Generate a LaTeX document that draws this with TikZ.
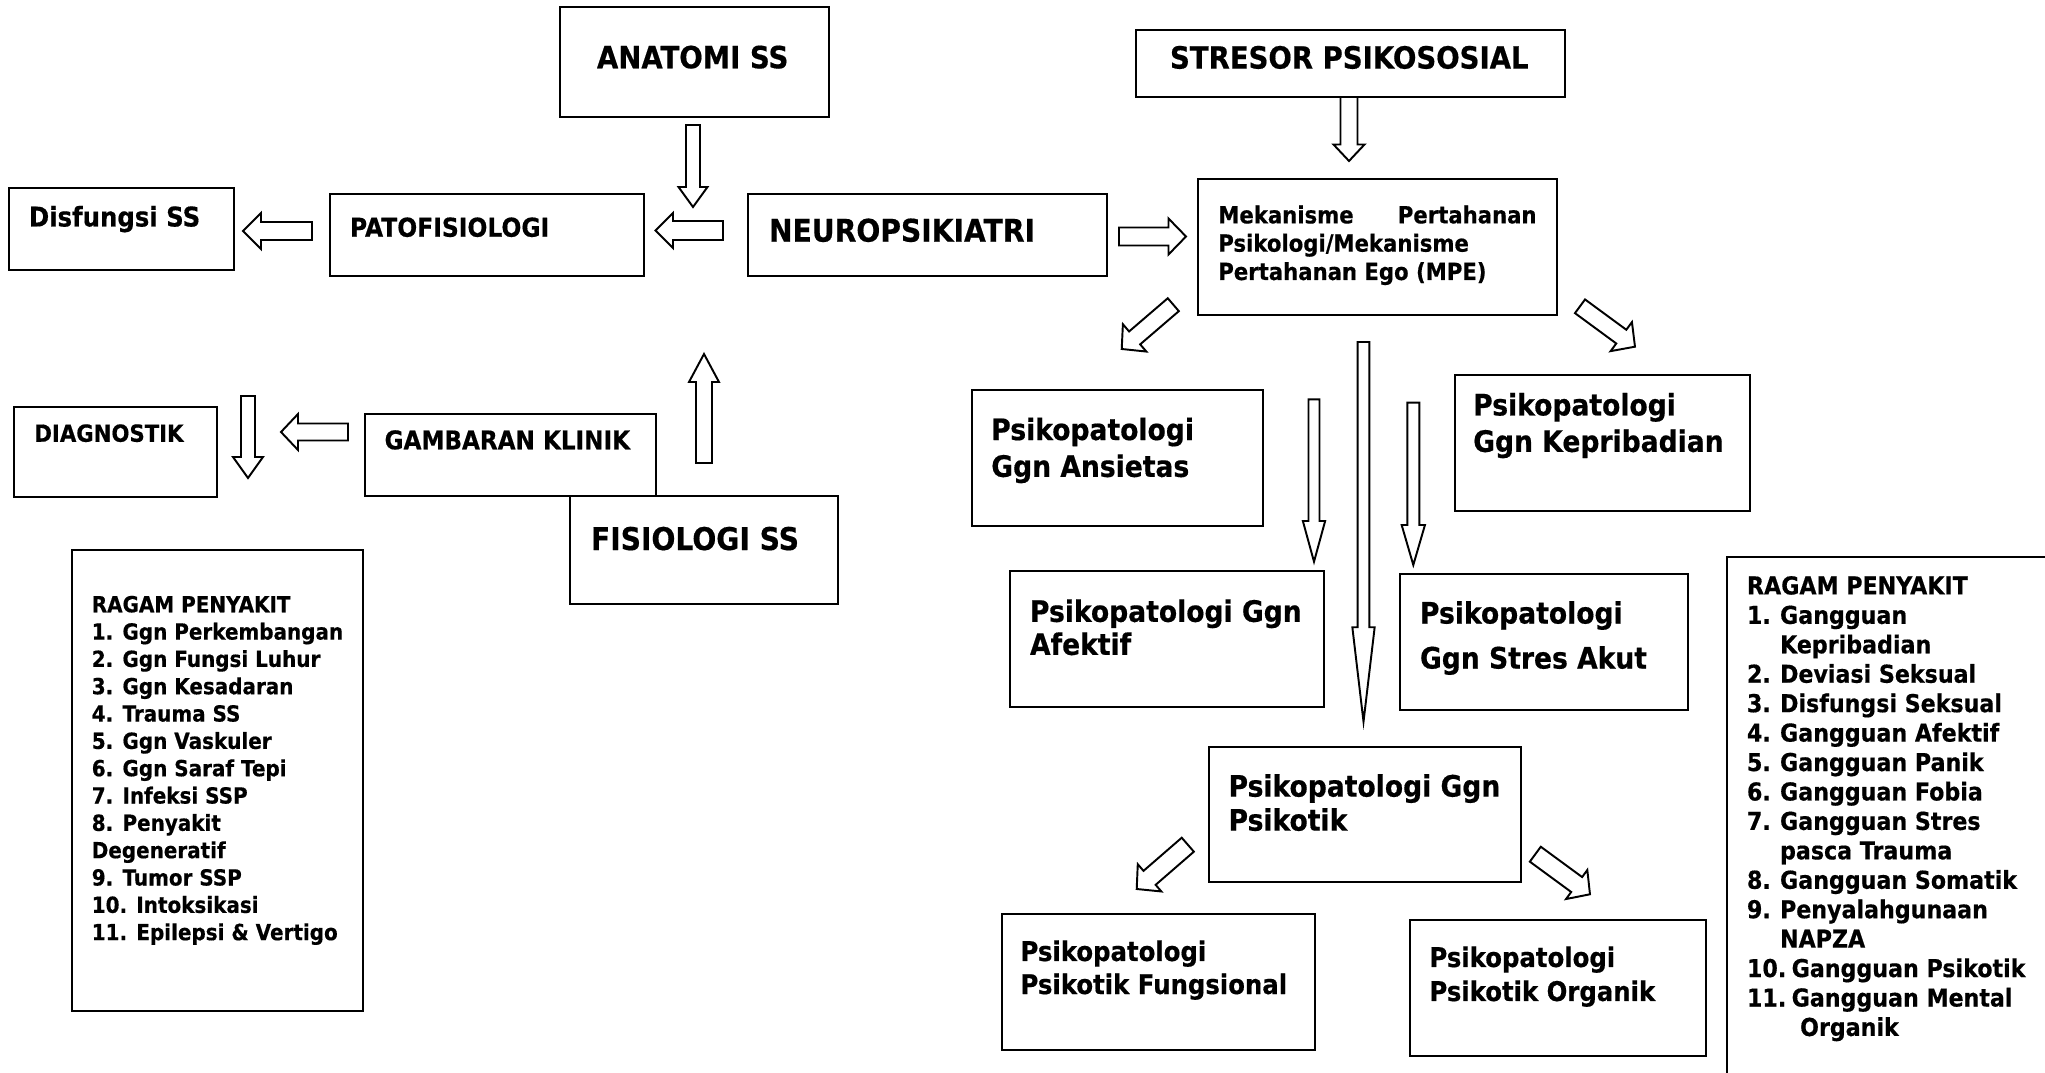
\documentclass[tikz,border=0pt]{standalone}
\usepackage{fontspec}
\setmainfont{DejaVu Sans}[FakeStretch=0.9, FakeBold=0.5]
\usetikzlibrary{fit,calc}
\tikzset{
  box/.style={draw=black, line width=0.6pt, inner sep=0pt, outer sep=0pt, fill=white},
  txt/.style={inner sep=0pt, outer sep=0pt, anchor=north west, align=left},
  barrowline/.style={draw=black, fill=white, line width=0.55pt, line join=miter},
}
\newcommand\mkfont[2]{\fontsize{#1}{#2}\selectfont\bfseries}
\newcommand\ptext[5]{\node[txt, font={\mkfont{#3}{#4}}] (#1) at (#2) {\rule{0pt}{#3}#5};}
\newcommand\nb[1]{\makebox[9.4pt][l]{#1}}
\newcommand\nbb[1]{\makebox[12.7pt][l]{#1}}
% block arrow: tail coordinate, tip coordinate, shaft width, head width, head length (px)
\newcommand\blockarrow[5]{%
  \path let \p3=($(#2)-(#1)$) in \pgfextra{%
    \pgfmathsetmacro\baang{atan2(\y3,\x3)}%
    \pgfmathsetmacro\balen{veclen(\x3,\y3)}%
    \xdef\BAang{\baang}\xdef\BAlen{\balen}};
  \pgfmathsetmacro\BAs{#3*0.142265}%
  \pgfmathsetmacro\BAh{#4*0.142265}%
  \pgfmathsetmacro\BAb{\BAlen-#5*0.28453}%
  \draw[barrowline, shift={(#1)}, rotate=\BAang] (0pt,-\BAs pt) -- (\BAb pt,-\BAs pt) -- (\BAb pt,-\BAh pt) -- (\BAlen pt,0pt) -- (\BAb pt,\BAh pt) -- (\BAb pt,\BAs pt) -- (0pt,\BAs pt) -- cycle;
}
\begin{document}
\begin{tikzpicture}[x=0.01cm, y=-0.01cm]
\useasboundingbox (0,0) rectangle (2045,1073);
\fill[white] (0,0) rectangle (2045,1073);
\clip (0,0) rectangle (2045,1073);

% ---------- boxes ----------
\node[box, fit={(560,7) (829,117)}] (ana) {};
\node[box, fit={(1136,30) (1565,97)}] (str) {};
\node[box, fit={(9,188) (234,270)}] (dis) {};
\node[box, fit={(330,194) (644,276)}] (pat) {};
\node[box, fit={(748,194) (1107,276)}] (neu) {};
\node[box, fit={(1198,179) (1557,315)}] (mpe) {};
\node[box, fit={(14,407) (217,497)}] (dia) {};
\node[box, fit={(365,414) (656,496)}] (gam) {};
\node[box, fit={(570,496) (838,604)}] (fis) {};
\node[box, fit={(72,550) (363,1011)}] (rgl) {};
\node[box, fit={(972,390) (1263,526)}] (ans) {};
\node[box, fit={(1455,375) (1750,511)}] (kep) {};
\node[box, fit={(1010,571) (1324,707)}] (afe) {};
\node[box, fit={(1400,574) (1688,710)}] (sta) {};
\node[box, fit={(1209,747) (1521,882)}] (psi) {};
\node[box, fit={(1002,914) (1315,1050)}] (fun) {};
\node[box, fit={(1410,920) (1706,1056)}] (org) {};
\node[box, fit={(1727,557) (2100,1120)}] (rgr) {};

% ---------- arrow end points ----------
\coordinate (a1t) at (693,125);    \coordinate (a1h) at (693,207);
\coordinate (a2t) at (723,230.5);  \coordinate (a2h) at (655.5,230.5);
\coordinate (a3t) at (312,231);    \coordinate (a3h) at (243,231);
\coordinate (a4t) at (704,463);    \coordinate (a4h) at (704,354);
\coordinate (a5t) at (348,432);    \coordinate (a5h) at (281,432);
\coordinate (a6t) at (248,396);    \coordinate (a6h) at (248,478);
\coordinate (a7t) at (1349,97);    \coordinate (a7h) at (1349,161);
\coordinate (a8t) at (1119,236.5); \coordinate (a8h) at (1186,236.5);
\coordinate (a9t) at (1173.3,304.7); \coordinate (a9h) at (1121.7,349);
\coordinate (a10t) at (1580,306.3); \coordinate (a10h) at (1635,346.7);
\coordinate (a11t) at (1314,399.3); \coordinate (a11h) at (1314,561.7);
\coordinate (a12t) at (1413.3,402.7); \coordinate (a12h) at (1413.3,565);
\coordinate (a13t) at (1363.5,342); \coordinate (a13h) at (1363.5,721.7);
\coordinate (a14t) at (1187.8,844.7); \coordinate (a14h) at (1136.7,889);
\coordinate (a15t) at (1535.3,854.2); \coordinate (a15h) at (1590,894.3);

% ---------- block arrows ----------
\blockarrow{a1t}{a1h}{14}{29}{20}
\blockarrow{a2t}{a2h}{19}{35}{17.5}
\blockarrow{a3t}{a3h}{18}{36}{18}
\blockarrow{a4t}{a4h}{16}{30}{28}
\blockarrow{a5t}{a5h}{17}{36}{17}
\blockarrow{a6t}{a6h}{14}{30}{21}
\blockarrow{a7t}{a7h}{17}{31}{16.5}
\blockarrow{a8t}{a8h}{18}{36}{17.5}
\blockarrow{a9t}{a9h}{17}{36}{17}
\blockarrow{a10t}{a10h}{17}{36}{17}
\blockarrow{a11t}{a11h}{11}{22.3}{40.7}
\blockarrow{a12t}{a12h}{12}{23.3}{40}
\blockarrow{a13t}{a13h}{11.7}{22.3}{94.4}
\blockarrow{a14t}{a14h}{18.5}{36}{17}
\blockarrow{a15t}{a15h}{18.5}{36}{16.5}

% ---------- texts ----------
\ptext{tana}{597,37.7}{8.7pt}{10.4pt}{ANATOMI SS}
\ptext{tstr}{1170,38}{8.7pt}{10.4pt}{STRESOR PSIKOSOSIAL}
\ptext{tneu}{769,210.4}{8.9pt}{10.6pt}{NEUROPSIKIATRI}
\ptext{tfis}{591,518.7}{8.9pt}{10.6pt}{FISIOLOGI SS}
\ptext{tdis}{29,199.4}{7.7pt}{9.2pt}{Disfungsi SS}
\ptext{tpat}{350,210.7}{7.4pt}{8.9pt}{PATOFISIOLOGI}
\ptext{tgam}{384.6,423.6}{7.3pt}{8.8pt}{GAMBARAN KLINIK}
\ptext{tdia}{34.4,418.2}{6.7pt}{8pt}{DIAGNOSTIK}
\ptext{tmpe}{1218.3,199.8}{6.7pt}{8.05pt}{\makebox[90.5pt][s]{Mekanisme\hfill Pertahanan}\\Psikologi/Mekanisme\\Pertahanan Ego (MPE)}
\ptext{trgl}{91.8,590.1}{6.3pt}{7.77pt}{RAGAM PENYAKIT\\1. Ggn Perkembangan\\2. Ggn Fungsi Luhur\\3. Ggn Kesadaran\\4. Trauma SS\\5. Ggn Vaskuler\\6. Ggn Saraf Tepi\\7. Infeksi SSP\\8. Penyakit\\Degeneratif\\9. Tumor SSP\\10. Intoksikasi\\11. Epilepsi \& Vertigo}
\ptext{tans}{991.3,410.5}{8.4pt}{10.47pt}{Psikopatologi\\Ggn Ansietas}
\ptext{tkep}{1473.2,385.9}{8.4pt}{10.36pt}{Psikopatologi\\Ggn Kepribadian}
\ptext{tafe}{1030,592.3}{8.4pt}{9.39pt}{Psikopatologi Ggn\\Afektif}
\ptext{tsta}{1420,594}{8.4pt}{12.8pt}{Psikopatologi\\Ggn Stres Akut}
\ptext{tpsi}{1228.6,767.1}{8.4pt}{9.67pt}{Psikopatologi Ggn\\Psikotik}
\ptext{tfun}{1020.5,933.9}{7.7pt}{9.39pt}{Psikopatologi\\Psikotik Fungsional}
\ptext{torg}{1429.4,939.9}{7.7pt}{9.67pt}{Psikopatologi\\Psikotik Organik}
\ptext{trgr}{1747,569.8}{7pt}{8.37pt}{RAGAM PENYAKIT\\\nb{1.}Gangguan\\\nb{}Kepribadian\\\nb{2.}Deviasi Seksual\\\nb{3.}Disfungsi Seksual\\\nb{4.}Gangguan Afektif\\\nb{5.}Gangguan Panik\\\nb{6.}Gangguan Fobia\\\nb{7.}Gangguan Stres\\\nb{}pasca Trauma\\\nb{8.}Gangguan Somatik\\\nb{9.}Penyalahgunaan\\\nb{}NAPZA\\\nbb{10.}Gangguan Psikotik\\\nbb{11.}Gangguan Mental\\\hspace*{15.1pt}Organik}
\end{tikzpicture}
\end{document}
